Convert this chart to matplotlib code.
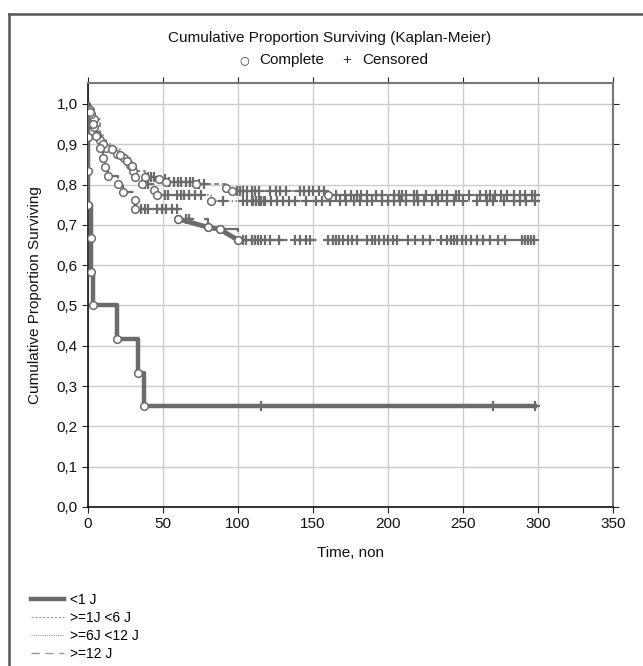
import numpy as np
import matplotlib.pyplot as plt
from matplotlib.lines import Line2D

plt.rcParams['font.family'] = ['Liberation Sans', 'DejaVu Sans']
plt.rcParams['font.size'] = 11

# group <1 J
t_lt1 = [0, 0, 0, 1.8, 2.2, 3.2, 19, 33, 37]
s_lt1 = [0.917, 0.833, 0.75, 0.667, 0.583, 0.5, 0.417, 0.333, 0.25]
c_lt1 = [115, 270, 298]

# group >=1J <6 J
t_1_6 = [1, 4, 8, 12, 19, 24, 28, 30, 38, 47, 52, 72, 92, 96, 160]
s_1_6 = [0.985, 0.963, 0.911, 0.89, 0.877, 0.865, 0.849, 0.834, 0.82, 0.813,
         0.807, 0.801, 0.791, 0.785, 0.774]
c_1_6 = [40, 42, 44, 51, 54, 57, 60, 62, 65, 68, 70, 74, 77, 99, 101, 103, 106,
         109, 111, 114, 121, 125, 128, 132, 141, 144, 147, 150, 154, 157,
         165, 171, 175, 179, 182, 186, 192, 196, 204, 207, 209, 212, 217, 219,
         225, 232, 236, 239, 245, 247, 254, 261, 265, 268, 271, 275, 279, 284,
         288, 291, 296, 298]

# group >=6J <12 J
t_6_12 = [2, 4, 6, 10, 16, 21, 26, 29, 31, 36, 44, 46, 82]
s_6_12 = [0.975, 0.944, 0.923, 0.9, 0.888, 0.873, 0.859, 0.845, 0.82, 0.801,
          0.787, 0.774, 0.758]
c_6_12 = [38, 40, 51, 53, 59, 62, 64, 67, 71, 75, 90, 103, 106, 109, 112, 115,
          118, 110, 114, 117, 122, 126, 130, 134, 138, 145, 152, 156, 161, 168,
          172, 177, 181, 186, 189, 196, 200, 204, 208, 212, 217, 220, 224, 229,
          233, 239, 244, 250, 259, 266, 270, 277, 284, 288, 292, 298]

# group >=12 J
t_ge12 = [1, 3, 5, 8, 10, 11, 13, 20, 23, 31, 31.5, 60, 80, 88, 100]
s_ge12 = [0.98, 0.95, 0.92, 0.89, 0.865, 0.844, 0.821, 0.801, 0.782, 0.762,
          0.739, 0.715, 0.694, 0.689, 0.662]
c_ge12 = [35, 38, 40, 46, 49, 52, 56, 59, 65, 67, 103, 105, 109, 111, 113, 115,
          118, 121, 127, 138, 141, 145, 148, 160, 163, 165, 167, 170, 173, 176,
          179, 186, 189, 191, 194, 197, 200, 203, 206, 213, 218, 223, 228, 235,
          239, 242, 244, 246, 249, 252, 255, 259, 263, 268, 273, 278, 289, 291,
          293, 295, 297]

labels = ['<1 J', '>=1J <6 J', '>=6J <12 J', '>=12 J']
groups = [(t_lt1, s_lt1, c_lt1), (t_1_6, s_1_6, c_1_6),
          (t_6_12, s_6_12, c_6_12), (t_ge12, s_ge12, c_ge12)]
styles = [dict(lw=3.2, ls='-'), dict(lw=1.1, ls=(0, (3, 2))),
          dict(lw=1.1, ls=(0, (1, 1.5))), dict(lw=1.6, ls=(0, (8, 5)))]
gray = '#6b6b6b'

fig = plt.figure(figsize=(6.43, 6.66), dpi=100)
ax = fig.add_axes([88 / 643, 1 - 507 / 666, 525 / 643, 424 / 666])

ax.grid(True, color='#cccccc', lw=1)
ax.set_axisbelow(True)

end_t = 298
for (t, s, c), st in zip(groups, styles):
    tt = np.r_[0, t, end_t]
    ss = np.r_[1.0, s, s[-1]]
    ax.step(tt, ss, where='post', color=gray, zorder=3, **st)
    # censored
    c = np.array(c, dtype=float)
    idx = np.searchsorted(tt, c, side='right') - 1
    ax.plot(c, ss[idx], '+', color=gray, ms=6.5, mew=1.6, zorder=4)
    # complete
    ax.plot(t, s, 'o', mfc='white', mec=gray, mew=1.1, ms=5.5, zorder=5)

# slanted segments on the >=12 J curve
ax.plot(t_ge12[-4:], s_ge12[-4:], color=gray, lw=3.5, zorder=3.5)
ax.plot(t_ge12[-4:], s_ge12[-4:], 'o', mfc='white', mec=gray, mew=1.1, ms=5.5,
        zorder=5)

ax.set_xlim(0, 350)
ax.set_ylim(0, 1.052)
ax.set_xticks(np.arange(0, 351, 50))
yt = np.round(np.arange(0, 1.01, 0.1), 1)
ax.set_yticks(yt)
ax.set_yticklabels([f'{v:.1f}'.replace('.', ',') for v in yt])
ax.tick_params(axis='both', which='both', direction='out', length=4,
               colors='#222222', labelcolor='#111111')
ax.tick_params(top=True, right=True)

for side in ['left', 'bottom']:
    ax.spines[side].set_color('#111111')
    ax.spines[side].set_linewidth(1.2)
for side in ['top', 'right']:
    ax.spines[side].set_color('#777777')
    ax.spines[side].set_linewidth(1.5)

ax.set_xlabel('Time, non', color='#111111')
ax.xaxis.set_label_coords(0.5, -0.093)
ax.set_ylabel('Cumulative Proportion Surviving', color='#111111')
ax.yaxis.set_label_coords(-0.0876, 0.5)

fig.text(330 / 643, 1 - 38 / 666, 'Cumulative Proportion Surviving (Kaplan-Meier)',
         ha='center', va='center', color='#111111')
fig.text(244 / 643, 1 - 60 / 666, '\u25CB', ha='center', va='center',
         fontsize=8, family='DejaVu Sans', color='#333333')
fig.text(259 / 643, 1 - 60 / 666, 'Complete', ha='left', va='center',
         color='#111111')
fig.text(347 / 643, 1 - 60 / 666, '+', ha='center', va='center',
         color='#333333')
fig.text(362 / 643, 1 - 60 / 666, 'Censored', ha='left', va='center',
         color='#111111')

# outer frame
fig.add_artist(Line2D([9 / 643, 9 / 643], [0, 1 - 14 / 666], color='#555555',
                      lw=1.8))
fig.add_artist(Line2D([9 / 643, 1], [1 - 14 / 666, 1 - 14 / 666],
                      color='#555555', lw=1.8))

handles = [Line2D([], [], color=gray, lw=3.2),
           Line2D([], [], color='#999999', lw=0.8, ls=(0, (2, 1.5))),
           Line2D([], [], color='#999999', lw=0.8, ls=(0, (1, 1))),
           Line2D([], [], color='#999999', lw=1.0, ls=(0, (6, 4)))]
fig.legend(handles, labels, loc='lower left',
           bbox_to_anchor=(31 / 643, 5 / 666), frameon=False, fontsize=10,
           handlelength=2.4, handletextpad=0.4, labelspacing=0.3,
           borderpad=0, borderaxespad=0)

fig.savefig('out.png', dpi=100)
